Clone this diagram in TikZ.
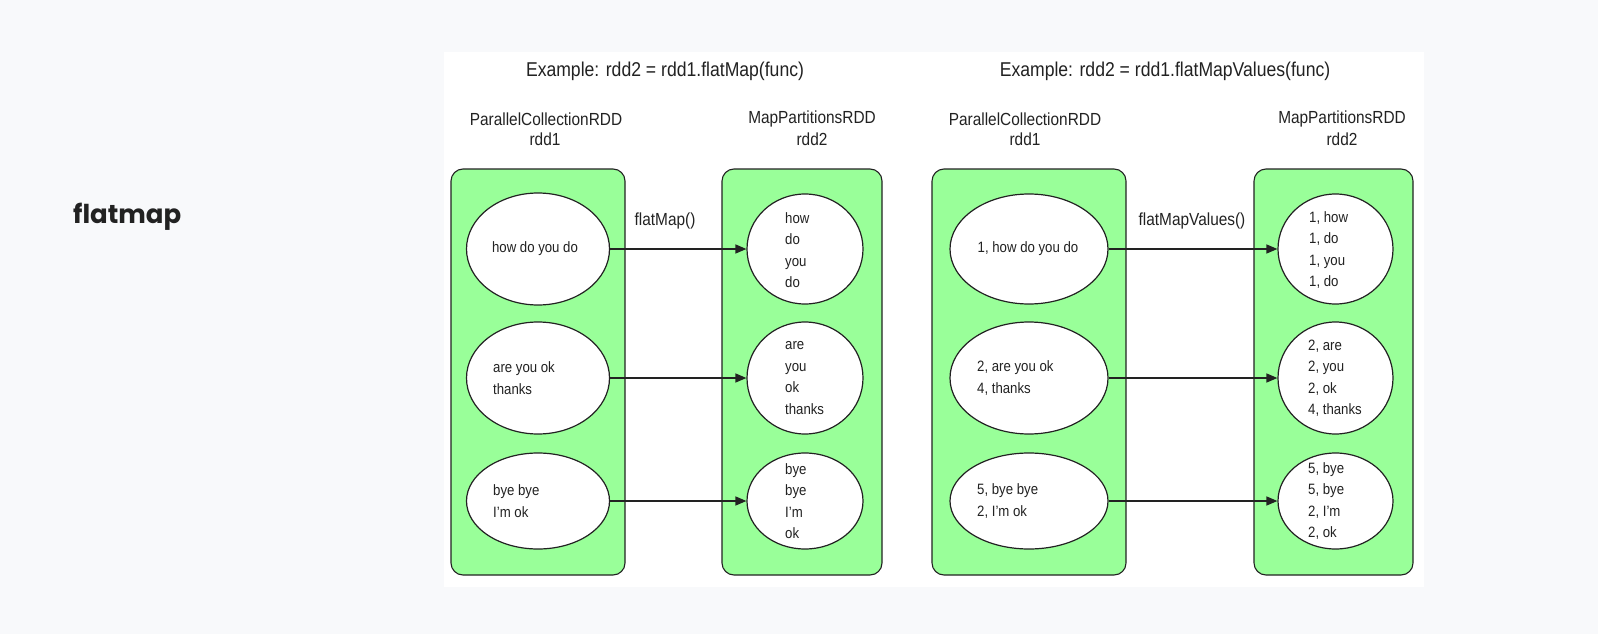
\documentclass[tikz,border=0pt]{standalone}
\usepackage{fontspec}
\setmainfont{Liberation Sans}[FakeStretch=0.88]
\newfontfamily\handfont{Poppins}
\usetikzlibrary{arrows.meta,shapes.geometric}
\definecolor{pagebg}{HTML}{F8F9FB}
\definecolor{rddgreen}{HTML}{99FF99}
\definecolor{ink}{HTML}{222222}
\begin{document}
\begin{tikzpicture}[x=1pt,y=-1pt,
  rddbox/.style={draw=ink, line width=1.1pt, fill=rddgreen, rounded corners=12pt, inner sep=0pt},
  part/.style={ellipse, draw=ink, line width=1.2pt, fill=white, inner sep=0pt},
  ptext/.style={anchor=west, align=left, inner sep=0pt, text=ink, font=\fontsize{15}{21.5}\selectfont},
  hdr/.style={inner sep=0pt, text=ink, font=\fontsize{17.5}{21}\selectfont},
  ttl/.style={inner sep=0pt, text=ink, font=\fontsize{20}{24}\selectfont},
  flow/.style={draw=ink, line width=1.4pt, -{Triangle[length=11pt,width=9pt]}},
]
\path[use as bounding box, fill=pagebg] (0,0) rectangle (1598,634);
\fill[white] (444,52) rectangle (1424,587);

\node[anchor=west, inner sep=0pt, text=ink, font=\handfont\bfseries\fontsize{26}{30}\selectfont] (lbl) at (73,217) {flatmap};

% titles
\node[ttl] (t1) at (665,71) {Example: rdd2 = rdd1.flatMap(func)};
\node[ttl] (t2) at (1165,71) {Example: rdd2 = rdd1.flatMapValues(func)};

% headers
\node[hdr] (h1a) at (546,119) {ParallelCollectionRDD};
\node[hdr] (h1b) at (545,139) {rdd1};
\node[hdr] (h2a) at (812,119) {MapPartitionsRDD};
\node[hdr] (h2b) at (812,139) {rdd2};
\node[hdr] (h3a) at (1025,119) {ParallelCollectionRDD};
\node[hdr] (h3b) at (1025,139) {rdd1};
\node[hdr] (h4a) at (1342,119) {MapPartitionsRDD};
\node[hdr] (h4b) at (1342,139) {rdd2};

% boxes
\node[rddbox, minimum width=174pt, minimum height=406pt] (b1) at (538,372) {};
\node[rddbox, minimum width=160pt, minimum height=406pt] (b2) at (802,372) {};
\node[rddbox, minimum width=194pt, minimum height=406pt] (b3) at (1029,372) {};
\node[rddbox, minimum width=159pt, minimum height=406pt] (b4) at (1333.5,372) {};

% ellipses
\node[part, minimum width=143pt, minimum height=112pt] (e1) at (538,249) {};
\node[part, minimum width=143pt, minimum height=112pt] (e2) at (538,378) {};
\node[part, minimum width=143pt, minimum height=96pt] (e3) at (538,501) {};
\node[part, minimum width=116pt, minimum height=110pt] (f1) at (805,249) {};
\node[part, minimum width=116pt, minimum height=112pt] (f2) at (805,378) {};
\node[part, minimum width=116pt, minimum height=96pt] (f3) at (805,501) {};
\node[part, minimum width=158pt, minimum height=110pt] (g1) at (1029,249) {};
\node[part, minimum width=158pt, minimum height=112pt] (g2) at (1029,378) {};
\node[part, minimum width=158pt, minimum height=96pt] (g3) at (1029,501) {};
\node[part, minimum width=115pt, minimum height=110pt] (k1) at (1335.5,249) {};
\node[part, minimum width=115pt, minimum height=112pt] (k2) at (1335.5,378) {};
\node[part, minimum width=115pt, minimum height=96pt] (k3) at (1335.5,501) {};

% ellipse texts
\node[ptext, anchor=center] (te1) at (535,249) {how do you do};
\node[ptext] (te2) at (493,378) {are you ok\\thanks};
\node[ptext] (te3) at (493,501) {bye bye\\I’m ok};
\node[ptext] (tf1) at (785,250) {how\\do\\you\\do};
\node[ptext] (tf2) at (785,378) {are\\you\\ok\\thanks};
\node[ptext] (tf3) at (785,501) {bye\\bye\\I’m\\ok};
\node[ptext, anchor=center] (tg1) at (1028,249) {1, how do you do};
\node[ptext] (tg2) at (977,378) {2, are you ok\\4, thanks};
\node[ptext] (tg3) at (977,501) {5, bye bye\\2, I’m ok};
\node[ptext] (tk1) at (1309,250) {1, how\\1, do\\1, you\\1, do};
\node[ptext] (tk2) at (1308,378) {2, are\\2, you\\2, ok\\4, thanks};
\node[ptext] (tk3) at (1308,501) {5, bye\\5, bye\\2, I’m\\2, ok};

% arrows
\draw[flow] (e1.east) -- (f1.west);
\draw[flow] (e2.east) -- (f2.west);
\draw[flow] (e3.east) -- (f3.west);
\draw[flow] (g1.east) -- (k1.west);
\draw[flow] (g2.east) -- (k2.west);
\draw[flow] (g3.east) -- (k3.west);

\node[hdr] (op1) at (665,221) {flatMap()};
\node[hdr] (op2) at (1192,221) {flatMapValues()};
\end{tikzpicture}
\end{document}
